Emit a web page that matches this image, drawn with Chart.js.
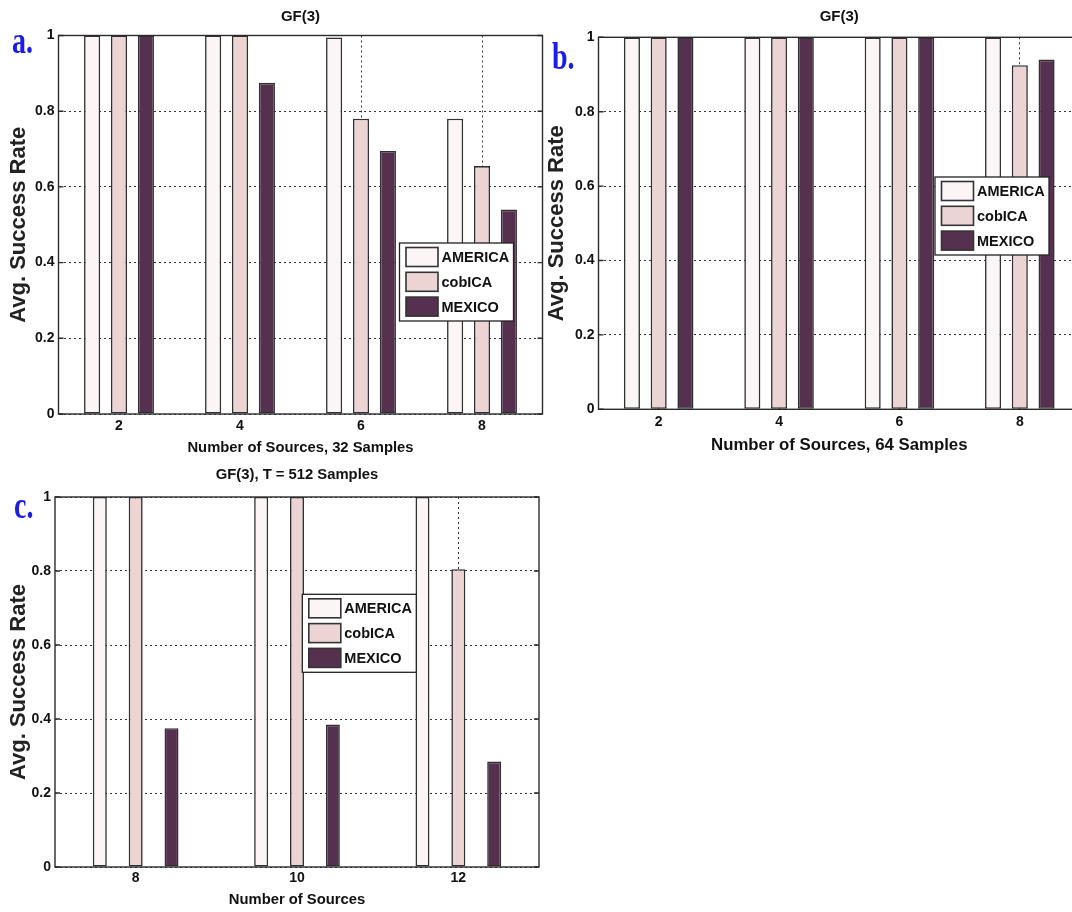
<!DOCTYPE html>
<html>
<head>
<meta charset="utf-8">
<title>GF(3) average success rate</title>
<script src="https://cdn.jsdelivr.net/npm/chart.js@4.4.1/dist/chart.umd.min.js"></script>
<style>
  html, body { margin: 0; padding: 0; background: #fff; width: 1072px; height: 912px; overflow: hidden; }
  canvas { position: absolute; }
  .tag {
    position: absolute;
    font-family: 'Liberation Serif', 'Times New Roman', serif;
    font-weight: bold;
    font-size: 28px;
    line-height: 28px;
    color: #1c1ce6;
    transform: scaleY(1.35);
    transform-origin: 0 0;
  }
</style>
</head>
<body>
<canvas id="chart-a" width="545" height="464" style="left:0;top:0"></canvas>
<canvas id="chart-b" width="545" height="465" style="left:540px;top:0"></canvas>
<canvas id="chart-c" width="542" height="457" style="left:0;top:455px"></canvas>
<div class="tag" style="left:12px;top:22px">a.</div>
<div class="tag" style="left:552px;top:38px">b.</div>
<div class="tag" style="left:14px;top:487px">c.</div>

<script>
// ---- data ----
const seriesNames = ['AMERICA', 'cobICA', 'MEXICO'];
const yTickValues = [0, 0.2, 0.4, 0.6, 0.8, 1];

// a. 32 samples
const sourcesA = [2, 4, 6, 8];
const americaA = [1, 1, 0.995, 0.78];
const cobicaA = [1, 1, 0.78, 0.655];
const mexicoA = [1, 0.875, 0.695, 0.54];

// b. 64 samples
const sourcesB = [2, 4, 6, 8];
const americaB = [1, 1, 1, 1];
const cobicaB = [1, 1, 1, 0.925];
const mexicoB = [1, 1, 1, 0.94];

// c. T = 512 samples
const sourcesC = [8, 10, 12];
const americaC = [1, 1, 1];
const cobicaC = [1, 1, 0.805];
const mexicoC = [0.375, 0.385, 0.285];

const seriesColors = ['#fbf6f5', '#ebd4d3', '#56314f'];
const FONT = "'Liberation Sans', Arial, Helvetica, sans-serif";

Chart.defaults.font.family = FONT;
Chart.defaults.font.weight = 'bold';
Chart.defaults.color = '#111';

// axes box drawn on top of the bars, with inward ticks on both sides
const framePlugin = {
  id: 'frame',
  afterDatasetsDraw(chart) {
    const { ctx, chartArea: a, scales } = chart;
    ctx.save();
    ctx.strokeStyle = '#2b2b2b';
    ctx.lineWidth = 1.4;
    ctx.strokeRect(a.left, a.top, a.right - a.left, a.bottom - a.top);
    ctx.beginPath();
    scales.y.ticks.forEach(t => {
      const y = scales.y.getPixelForValue(t.value);
      ctx.moveTo(a.left, y); ctx.lineTo(a.left + 5, y);
      ctx.moveTo(a.right, y); ctx.lineTo(a.right - 5, y);
    });
    ctx.stroke();
    ctx.restore();
  }
};

// boxed legend placed inside the plot like the matlab one
function boxLegend(at) {
  return {
    id: 'boxLegend',
    afterDraw(chart) {
      const { ctx, chartArea: a } = chart;
      const x0 = a.left + at.x, y0 = a.top + at.y;
      ctx.save();
      ctx.fillStyle = '#fff';
      ctx.fillRect(x0, y0, 114, 78);
      ctx.strokeStyle = '#222';
      ctx.lineWidth = 1.3;
      ctx.strokeRect(x0, y0, 114, 78);
      ctx.font = 'bold 14.5px ' + FONT;
      ctx.textBaseline = 'middle';
      chart.data.datasets.forEach((ds, i) => {
        const cy = y0 + 14 + i * 24.8;
        ctx.fillStyle = ds.backgroundColor;
        ctx.fillRect(x0 + 6.5, cy - 9.5, 32, 19);
        ctx.strokeStyle = '#333';
        ctx.lineWidth = 1.6;
        ctx.strokeRect(x0 + 6.5, cy - 9.5, 32, 19);
        ctx.fillStyle = '#111';
        ctx.fillText(ds.label, x0 + 42, cy + 1);
      });
      ctx.restore();
    }
  };
}

function makePanel(canvasId, p) {
  const ctx = document.getElementById(canvasId).getContext('2d');
  const titleLine = p.titleSize * 1.2;

  const datasets = seriesNames.map((name, i) => ({
    label: name,
    data: p.sources.map((s, j) => ({ x: s, y: p.values[i][j] })),
    backgroundColor: seriesColors[i],
    borderColor: '#303030',
    borderWidth: 1.6,
    borderSkipped: false,
    categoryPercentage: 2 / 3,
    barPercentage: p.barPct
  }));

  return new Chart(ctx, {
    type: 'bar',
    data: { datasets },
    options: {
      responsive: false,
      animation: false,
      devicePixelRatio: 1,
      layout: { padding: { right: p.padRight } },
      plugins: {
        legend: { display: false },
        tooltip: { enabled: false },
        title: {
          display: true,
          text: p.title,
          fullSize: false,
          color: '#111',
          font: { size: p.titleSize, weight: 'bold' },
          padding: { top: p.titleTop, bottom: p.plotTop - p.titleTop - titleLine }
        }
      },
      scales: {
        x: {
          type: 'linear',
          bounds: 'data',
          min: p.sources[0] - 1,
          max: p.sources[p.sources.length - 1] + 1,
          offset: false,
          afterBuildTicks: s => { s.ticks = p.sources.map(v => ({ value: v })); },
          afterFit: s => { s.height = p.xAxisHeight; },
          grid: { offset: false, drawTicks: false, color: '#333', lineWidth: 1 },
          border: { display: false, dash: [2, 3] },
          ticks: {
            padding: p.xTickPad,
            color: '#111',
            font: { size: 14, weight: 'bold' },
            callback: v => String(v)
          },
          title: {
            display: true,
            text: p.xTitle,
            color: '#111',
            font: { size: p.xTitleSize, weight: 'bold' },
            padding: { top: 0, bottom: p.xTitleBottom }
          }
        },
        y: {
          type: 'linear',
          bounds: 'data',
          min: 0,
          max: 1,
          afterBuildTicks: s => { s.ticks = yTickValues.map(v => ({ value: v })); },
          afterFit: s => { s.width = p.yAxisWidth; },
          grid: { drawTicks: false, color: '#333', lineWidth: 1 },
          border: { display: false, dash: [2, 3] },
          ticks: {
            padding: 4,
            color: '#111',
            font: { size: 14, weight: 'bold' },
            callback: v => String(v)
          },
          title: {
            display: true,
            text: 'Avg. Success Rate',
            color: '#222',
            font: { size: 22, weight: 'bold' },
            padding: { top: p.yTitleTop, bottom: 0 }
          }
        }
      }
    },
    plugins: [framePlugin, boxLegend(p.legendAt)]
  });
}

makePanel('chart-a', {
  sources: sourcesA,
  values: [americaA, cobicaA, mexicoA],
  title: 'GF(3)',
  titleSize: 15, titleTop: 8, plotTop: 35.5,
  xTitle: 'Number of Sources, 32 Samples', xTitleSize: 14.8, xTitleBottom: 7.6,
  xAxisHeight: 50, xTickPad: 4,
  yAxisWidth: 58.5, yTitleTop: 5.3,
  padRight: 2.5, barPct: 0.6,
  legendAt: { x: 341, y: 207.5 }
});

makePanel('chart-b', {
  sources: sourcesB,
  values: [americaB, cobicaB, mexicoB],
  title: 'GF(3)',
  titleSize: 15, titleTop: 8, plotTop: 37.3,
  xTitle: 'Number of Sources, 64 Samples', xTitleSize: 16.8, xTitleBottom: 10,
  xAxisHeight: 55.7, xTickPad: 4,
  yAxisWidth: 58.5, yTitleTop: 3.8,
  padRight: 5, barPct: 0.6,
  legendAt: { x: 336.5, y: 139.7 }
});

makePanel('chart-c', {
  sources: sourcesC,
  values: [americaC, cobicaC, mexicoC],
  title: 'GF(3), T = 512 Samples',
  titleSize: 14.8, titleTop: 11, plotTop: 42,
  xTitle: 'Number of Sources', xTitleSize: 14.8, xTitleBottom: 3.6,
  xAxisHeight: 45, xTickPad: 3,
  yAxisWidth: 55, yTitleTop: 5.3,
  padRight: 3, barPct: 0.39,
  legendAt: { x: 247.3, y: 97.3 }
});
</script>
</body>
</html>
